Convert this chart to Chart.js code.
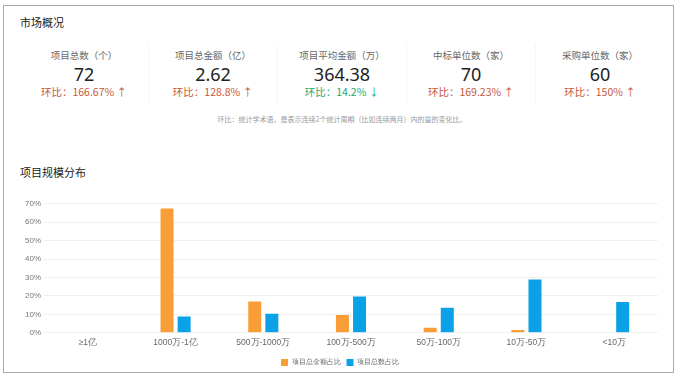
<!DOCTYPE html>
<html>
<head>
<meta charset="utf-8">
<script src="https://cdn.jsdelivr.net/npm/chart.js@4/dist/chart.umd.min.js"></script>
<style>
  html, body { margin: 0; padding: 0; background: #fff; }
  body { width: 684px; height: 378px; position: relative; overflow: hidden;
         font-family: "Noto Sans CJK SC", "Noto Sans", sans-serif; }
  .frame { position: absolute; left: 3px; top: 5px; width: 671px; height: 368px;
           border: 1px solid #a9a9a9; box-sizing: border-box; }
  .title { position: absolute; left: 20px; font-size: 11px; color: #222; }
  .cards { position: absolute; left: 20px; top: 44px; width: 644px; height: 62px; display: flex; }
  .card { flex: 1; text-align: center; border-right: 1px solid #f6f6f6; }
  .card:last-child { border-right: none; }
  .card .lbl { font-size: 9.5px; color: #666; line-height: 15px; margin-top: 4px; }
  .card .val { font-size: 18px; color: #222; line-height: 22px; font-family: "Noto Sans", sans-serif; }
  .card .rat { font-size: 10.5px; line-height: 14px; }
  .up { color: #c8583c; }
  .down { color: #1ea86c; }
  .note { position: absolute; left: 0; width: 684px; top: 114px; text-align: center;
          font-size: 7px; color: #999; }
  .chart-box { position: absolute; left: 22px; top: 196px; width: 636px; height: 180px; }
</style>
</head>
<body>
<div class="frame"></div>
<div class="title" style="top:14px">市场概况</div>
<div class="cards" id="cards"></div>
<div class="note">环比：统计学术语，是表示连续2个统计周期（比如连续两月）内的量的变化比。</div>
<div class="title" style="top:164px">项目规模分布</div>
<div class="chart-box"><canvas id="chart"></canvas></div>
<script>
  // Summary cards
  const statLabels = ['项目总数（个）', '项目总金额（亿）', '项目平均金额（万）', '中标单位数（家）', '采购单位数（家）'];
  const statValues = ['72', '2.62', '364.38', '70', '60'];
  const statRatios = ['166.67%', '128.8%', '14.2%', '169.23%', '150%'];
  const statTrend = ['up', 'up', 'down', 'up', 'up'];

  // Bar chart data (percent)
  const categories = ['≥1亿', '1000万-1亿', '500万-1000万', '100万-500万', '50万-100万', '10万-50万', '<10万'];
  const amountShare = [0, 67.5, 17.0, 9.6, 2.8, 1.5, 0.3];
  const countShare = [0, 8.8, 10.3, 19.7, 13.6, 28.9, 16.7];
  const seriesNames = ['项目总金额占比', '项目总数占比'];
  const yTicks = [0, 10, 20, 30, 40, 50, 60, 70];

  const cards = document.getElementById('cards');
  statLabels.forEach((label, i) => {
    const card = document.createElement('div');
    card.className = 'card';
    const arrow = statTrend[i] === 'up' ? '↑' : '↓';
    card.innerHTML =
      '<div class="lbl">' + label + '</div>' +
      '<div class="val">' + statValues[i] + '</div>' +
      '<div class="rat ' + statTrend[i] + '">环比：' + statRatios[i] + ' ' + arrow + '</div>';
    cards.appendChild(card);
  });

  new Chart(document.getElementById('chart'), {
    type: 'bar',
    data: {
      labels: categories,
      datasets: [
        { label: seriesNames[0], data: amountShare, backgroundColor: '#f99d36' },
        { label: seriesNames[1], data: countShare, backgroundColor: '#0aa1e6' },
      ],
    },
    options: {
      responsive: true,
      maintainAspectRatio: false,
      animation: false,
      categoryPercentage: 0.39,
      barPercentage: 0.76,
      layout: { padding: { left: 0, right: 0, top: 5, bottom: 0 } },
      plugins: {
        legend: {
          position: 'bottom',
          labels: { boxWidth: 7, boxHeight: 7, font: { size: 7 }, color: '#666', padding: 6 },
        },
        tooltip: { enabled: false },
      },
      scales: {
        x: {
          grid: { display: false, drawTicks: false },
          border: { display: false },
          ticks: { font: { size: 8.5 }, color: '#666', maxRotation: 0, padding: 5 },
        },
        y: {
          min: 0,
          max: 70,
          afterBuildTicks: (axis) => { axis.ticks = yTicks.map((v) => ({ value: v })); },
          grid: { color: '#f0f0f0', drawTicks: false },
          border: { display: false },
          ticks: { font: { size: 8 }, color: '#777', callback: (v) => v + '%', padding: 3 },
        },
      },
    },
  });
</script>
</body>
</html>
